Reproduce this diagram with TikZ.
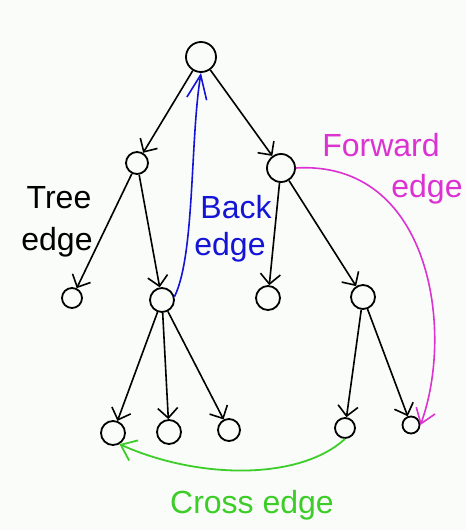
\documentclass[tikz,border=0pt]{standalone}
\usepackage{fontspec}
\setmainfont{Liberation Sans}
\usetikzlibrary{arrows.meta}
\definecolor{backblue}{RGB}{20,20,215}
\definecolor{fwdpink}{RGB}{220,50,210}
\definecolor{crossgreen}{RGB}{60,205,40}
\definecolor{paper}{RGB}{249,252,249}
\tikzset{>={Straight Barb[length=10pt,width=20pt]}}

\begin{document}
\begin{tikzpicture}[x=1pt, y=-1pt]
        % R = root, A/B = first level, C..F = second level, G..K = leaves
        \tikzstyle{every node}=[circle, draw=black, line width=1.8pt, inner sep=0pt, minimum size=22pt]
        \tikzstyle{every edge}=[black, ->, line width=1.6pt, draw]
        \tikzstyle{note}=[draw=none, rectangle, inner sep=0pt, anchor=base, font=\fontsize{32}{36}\selectfont]
        \fill[paper] (0,0) rectangle (466,530);
        \useasboundingbox (0,0) rectangle (466,530);

        \node[minimum size=30pt] (R) at (201,57) {};
        \node (A) at (137,163) {};
        \node[minimum size=28pt] (B) at (281,168) {};
        \node[minimum size=20pt] (C) at (72,298) {};
        \node[minimum size=24pt] (D) at (162,300) {};
        \node[minimum size=24pt] (E) at (268,298) {};
        \node[minimum size=24pt] (F) at (363,297) {};
        \node[minimum size=24pt] (G) at (113,433) {};
        \node[minimum size=24pt] (H) at (169,432) {};
        \node (I) at (229,430) {};
        \node[minimum size=20pt] (J) at (345,428) {};
        \node[minimum size=17pt] (K) at (411,425) {};

        % tree edges
        \draw (R) edge (A) edge (B);
        \draw (A) edge (C) edge (D);
        \draw (B) edge (E) edge (F);
        \draw (D) edge (G) edge (H) edge (I);
        \draw (F) edge (J) edge (K);

        % back edge
        \draw[->, backblue, line width=1.6pt, >={Straight Barb[length=24pt,width=20pt]}] (D.15) .. controls (195,255) and (190,140) ..
                (R.south);

        % forward edge
        \draw[->, fwdpink, line width=1.6pt, >={Straight Barb[length=14pt,width=20pt]}] (B.east) .. controls (430,160) and (455,330) ..
                (K.east);

        % cross edge
        \draw[->, crossgreen, line width=1.8pt, >={Straight Barb[length=14pt,width=22pt]}] (J.south) .. controls (300,480) and (200,480) ..
                (G.-60);

        % labels
        \node[note] (tree1) at (59,208) {Tree};
        \node[note] (tree2) at (57,250) {edge};
        \node[note, text=backblue] (back1) at (236,218) {Back};
        \node[note, text=backblue] (back2) at (230,255) {edge};
        \node[note, text=fwdpink] (fwd1) at (381,156) {Forward};
        \node[note, text=fwdpink] (fwd2) at (427,197) {edge};
        \node[note, text=crossgreen] (cross) at (252,513) {Cross edge};
\end{tikzpicture}
\end{document}
